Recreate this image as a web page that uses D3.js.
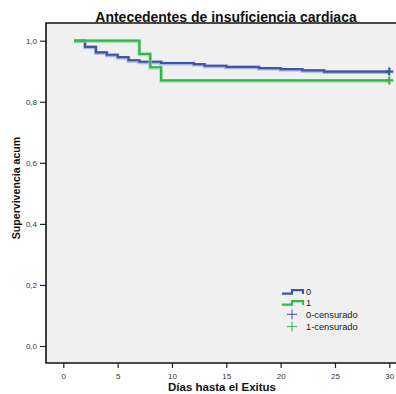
<!DOCTYPE html>
<html>
<head>
<meta charset="utf-8">
<script src="https://cdn.jsdelivr.net/npm/d3@7"></script>
<style>
  html, body { margin: 0; padding: 0; background: #fff; }
  svg { display: block; font-family: "Liberation Sans", Arial, sans-serif; }
</style>
</head>
<body>
<svg id="chart" width="396" height="394"></svg>
<script>
// Kaplan-Meier survival by history of heart failure (0 = no, 1 = yes)
const chartTitle = "Antecedentes de insuficiencia cardiaca";
const xTitle = "Días hasta el Exitus";
const yTitle = "Supervivencia acum";

const groupNames = ["0", "1"];
const censorNames = ["0-censurado", "1-censurado"];
const groupColors = ["#3e55a9", "#33b74a"];
const haloColors = ["#8e9cd3", "#8fd79b"];

// step times (days) and cumulative survival after each step
const times0 = [1, 2, 3, 4, 5, 6, 7, 9, 12, 13, 15, 18, 20, 22, 24];
const surv0 = [1.0, 0.980, 0.962, 0.954, 0.946, 0.936, 0.931, 0.927, 0.923, 0.918, 0.914, 0.910, 0.907, 0.903, 0.899];
const times1 = [1, 7, 8, 9];
const surv1 = [1.0, 0.957, 0.913, 0.870];

// follow-up end and censored observations
const endTime = 30;
const censorTimes0 = [30];
const censorTimes1 = [30];

const xTicks = [0, 5, 10, 15, 20, 25, 30];
const yTicks = [0, 0.2, 0.4, 0.6, 0.8, 1.0];

const svg = d3.select("#chart");

const x = d3.scaleLinear().domain([0, 30]).range([63.3, 389.3]);
const y = d3.scaleLinear().domain([0, 1]).range([346, 40.7]);

// plot frame
const frame = { left: 46, top: 23, right: 410, bottom: 363 };
svg.append("rect")
  .attr("x", frame.left).attr("y", frame.top)
  .attr("width", frame.right - frame.left).attr("height", frame.bottom - frame.top)
  .attr("fill", "#f0f0f0");

// title
svg.append("text")
  .attr("x", 226).attr("y", 21.5)
  .attr("text-anchor", "middle")
  .attr("font-size", "14px").attr("font-weight", "bold")
  .attr("fill", "#111")
  .text(chartTitle);

// axes
const fmt = d => d3.format(".1f")(d).replace(".", ",");
const yAxis = svg.append("g")
  .attr("transform", `translate(${frame.left},0)`)
  .call(d3.axisLeft(y).tickValues(yTicks).tickFormat(fmt).tickSize(6).tickPadding(3));
const xAxis = svg.append("g")
  .attr("transform", `translate(0,${frame.bottom})`)
  .call(d3.axisBottom(x).tickValues(xTicks).tickFormat(d3.format("d")).tickSize(5).tickPadding(5));
[yAxis, xAxis].forEach(g => {
  g.select(".domain").remove();
  g.selectAll(".tick line").attr("stroke", "#222").attr("stroke-width", 1.2);
  g.selectAll(".tick text").attr("fill", "#333").attr("font-size", "8px")
    .attr("font-family", "'Liberation Sans', Arial, sans-serif");
});

// frame borders
svg.append("path")
  .attr("d", `M${frame.right},${frame.top}H${frame.left}V${frame.bottom}H${frame.right}`)
  .attr("fill", "none").attr("stroke", "#111").attr("stroke-width", 1.6);

// axis titles
svg.append("text")
  .attr("transform", "translate(19.5,188) rotate(-90)")
  .attr("text-anchor", "middle")
  .attr("font-size", "10.6px").attr("font-weight", "bold").attr("fill", "#111")
  .text(yTitle);
svg.append("text")
  .attr("x", 222).attr("y", 391)
  .attr("text-anchor", "middle")
  .attr("font-size", "11.5px").attr("font-weight", "bold").attr("fill", "#111")
  .text(xTitle);

// survival curves
const series = [
  { t: times0, s: surv0, c: censorTimes0 },
  { t: times1, s: surv1, c: censorTimes1 }
];
const line = d3.line().x(d => x(d[0])).y(d => y(d[1])).curve(d3.curveStepAfter);

series.forEach((sr, i) => {
  const pts = sr.t.map((t, k) => [t, sr.s[k]]);
  pts.push([endTime, sr.s[sr.s.length - 1]]);
  svg.append("path").attr("d", line(pts))
    .attr("fill", "none").attr("stroke", haloColors[i]).attr("stroke-width", 3.6)
    .attr("stroke-opacity", 0.7).attr("transform", "translate(0,0.6)");
  svg.append("path").attr("d", line(pts))
    .attr("fill", "none").attr("stroke", groupColors[i]).attr("stroke-width", 2.2);

  // censor marks
  const last = sr.s[sr.s.length - 1];
  sr.c.forEach(ct => {
    const cx = x(ct), cy = y(last);
    svg.append("path")
      .attr("d", `M${cx - 4},${cy}H${cx + 4}M${cx},${cy - 4}V${cy + 4}`)
      .attr("stroke", groupColors[i]).attr("stroke-width", 2.2);
  });
});

// legend
const legend = svg.append("g");
const lx = 282, ly0 = 292;
groupNames.forEach((name, i) => {
  const yy = ly0 + i * 11;
  legend.append("path")
    .attr("d", `M${lx},${yy + 1.6}H${lx + 10}V${yy - 1.8}H${lx + 21}V${yy + 2}`)
    .attr("fill", "none").attr("stroke", groupColors[i]).attr("stroke-width", 2.2);
  legend.append("text")
    .attr("x", lx + 24).attr("y", yy + 3.3)
    .attr("font-size", "9.3px").attr("fill", "#222").text(name);
});
censorNames.forEach((name, i) => {
  const yy = ly0 + 22.3 + i * 12.3;
  const cx = lx + 10;
  legend.append("path")
    .attr("d", `M${cx - 5},${yy}H${cx + 5}M${cx},${yy - 5}V${yy + 5}`)
    .attr("stroke", groupColors[i]).attr("stroke-width", 1);
  legend.append("text")
    .attr("x", lx + 24).attr("y", yy + 3.3)
    .attr("font-size", "9.3px").attr("fill", "#222").text(name);
});
</script>
</body>
</html>
